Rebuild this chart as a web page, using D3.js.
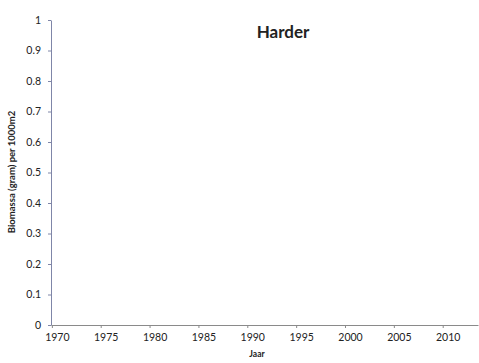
<!DOCTYPE html>
<html>
<head>
<meta charset="utf-8">
<script src="https://cdn.jsdelivr.net/npm/d3@7"></script>
<style>
  body { margin: 0; background: #fff; }
  text { font-family: Lato, "Open Sans", sans-serif; fill: #222; }
</style>
</head>
<body>
<svg id="chart"></svg>
<script>
// Data (the reference shows no observations)
const title = "Harder";
const years = [];
const biomassa = [];
const xTicks = [1970, 1975, 1980, 1985, 1990, 1995, 2000, 2005, 2010];
const yTicks = [0, 0.1, 0.2, 0.3, 0.4, 0.5, 0.6, 0.7, 0.8, 0.9, 1];

const width = 479, height = 363;
const svg = d3.select("#chart").attr("width", width).attr("height", height);

// Scales
const x = d3.scaleLinear().domain([1969.4, 2013.1]).range([51, 478]);
const y = d3.scaleLinear().domain([0, 1]).range([325, 20]);

// Y axis
const yAxis = svg.append("g")
  .attr("transform", `translate(${x(1969.4)},0)`)
  .call(d3.axisLeft(y).tickValues(yTicks).tickSize(3).tickSizeOuter(0)
    .tickFormat(d => d3.format("")(+d.toFixed(1))));
yAxis.select(".domain").attr("stroke", "#7f86a8");
yAxis.selectAll(".tick line").attr("stroke", "#7f86a8");
yAxis.selectAll(".tick text").attr("font-size", 10.5).attr("x", -10).attr("fill", "#222");

// X axis
const xAxis = svg.append("g")
  .attr("transform", `translate(0,${y(0)})`)
  .call(d3.axisBottom(x).tickValues(xTicks).tickSize(3).tickSizeOuter(0).tickFormat(d3.format("d")));
xAxis.select(".domain").attr("stroke", "#8a8a8a");
xAxis.selectAll(".tick line").attr("stroke", "#8a8a8a").attr("transform", "translate(-5,0)");
xAxis.selectAll(".tick text").attr("font-size", 10.5).attr("y", 9).attr("fill", "#222");

// Series (empty)
svg.append("path")
  .datum(years.map((d, i) => [d, biomassa[i]]))
  .attr("fill", "none").attr("stroke", "#1f4e9a")
  .attr("d", d3.line().x(d => x(d[0])).y(d => y(d[1])));

// Labels
svg.append("text").attr("x", 283).attr("y", 38).attr("text-anchor", "middle")
  .attr("font-size", 17).attr("font-weight", "bold").text(title);

svg.append("text").attr("transform", "translate(15,172) rotate(-90)")
  .attr("text-anchor", "middle").attr("font-size", 9.5).attr("font-weight", "bold")
  .text("Biomassa (gram) per 1000m2");

svg.append("text").attr("x", 257).attr("y", 357).attr("text-anchor", "middle")
  .attr("font-size", 8.5).attr("font-weight", "bold").text("Jaar");
</script>
</body>
</html>
